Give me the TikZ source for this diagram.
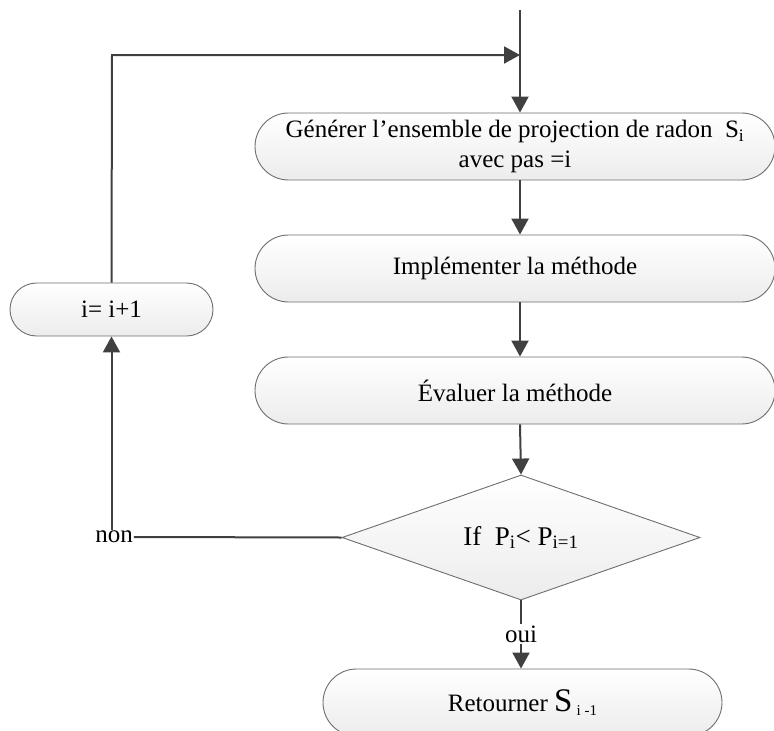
\documentclass[tikz,border=0pt]{standalone}
\usepackage{fontspec}
\setmainfont{Liberation Serif}
\usetikzlibrary{shapes.misc,shapes.geometric,arrows.meta}
\definecolor{linec}{RGB}{64,64,64}
\definecolor{borderc}{RGB}{110,110,110}
\definecolor{fillbot}{RGB}{236,236,236}
\tikzset{
  procbox/.style={rounded rectangle, draw=borderc, line width=0.9pt,
    top color=white, bottom color=fillbot, inner sep=0pt,
    font=\fontsize{25pt}{30pt}\selectfont, align=center},
  decbox/.style={diamond, draw=borderc, line width=0.9pt,
    top color=white, bottom color=fillbot, inner sep=0pt,
    minimum width=358pt, minimum height=125pt, aspect=2.86,
    font=\fontsize{27pt}{30pt}\selectfont},
  lab/.style={inner sep=1pt, font=\fontsize{25pt}{28pt}\selectfont},
  conn/.style={draw=linec, line width=2pt},
  arr/.style={conn, -{Triangle[width=17pt,length=16pt]}},
}
\begin{document}
\begin{tikzpicture}[x=1pt,y=-1pt]
\useasboundingbox (0,0) rectangle (774,731);
\node[procbox, minimum width=520pt, minimum height=67pt] (b1) at (515,146.5)
  {Générer l’ensemble de projection de radon\ \ S\textsubscript{i}\\avec pas =i};
\node[procbox, minimum width=520pt, minimum height=67pt] (b2) at (515,268.5)
  {Implémenter la méthode};
\node[procbox, minimum width=520pt, minimum height=67pt] (b3) at (515,390.5)
  {Évaluer la méthode};
\node[decbox] (d) at (521,537.5) {If\ \ P\textsubscript{i}< P\textsubscript{i=1}};
\node[procbox, minimum width=399pt, minimum height=67pt] (b4) at (522.5,702.5)
  {Retourner {\fontsize{33pt}{33pt}\selectfont S}\,\raisebox{-4pt}{\fontsize{15pt}{15pt}\selectfont i -1}};
\node[procbox, minimum width=203pt, minimum height=53pt] (bi) at (111.5,309.5) {i= i+1};
\node[lab] (non) at (114,537) {non};
\node[lab] (oui) at (521,634) {oui};
\coordinate (start) at (520,10);
\coordinate (join) at (520,55);
\coordinate (corner) at (112,55);
% connectors
\draw[arr] (start) -- (start |- b1.north);
\draw[arr] (b1.south -| start) -- (b2.north -| start);
\draw[arr] (b2.south -| start) -- (b3.north -| start);
\draw[arr] (b3.south -| start) -- (d.north);
\draw[conn] (d.south) -- (oui.north);
\draw[arr] (oui.south) -- (oui.south |- b4.north);
\draw[conn] (d.west) -- (non.east);
\draw[arr] (non.north -| bi.south) -- (bi.south);
\draw[arr] (bi.north) -- (corner) -- (join);
\end{tikzpicture}
\end{document}
